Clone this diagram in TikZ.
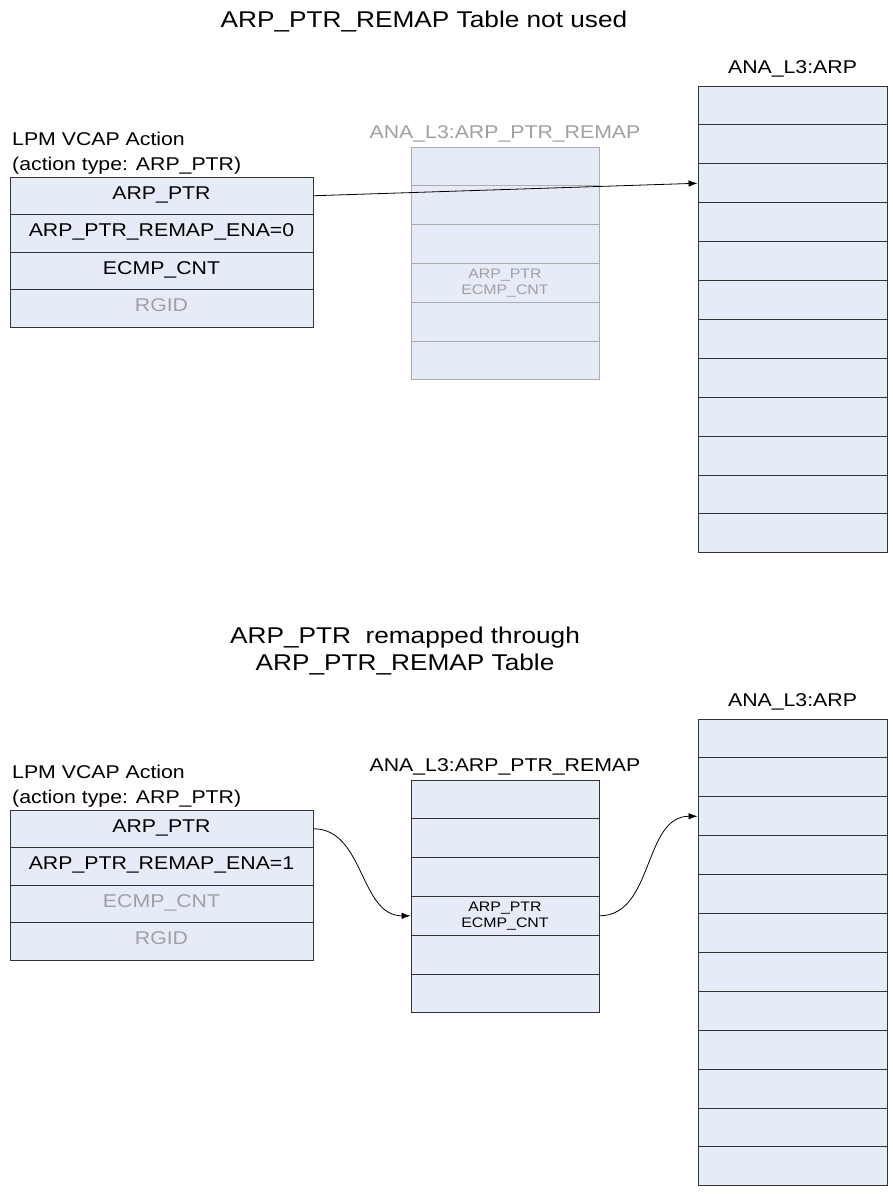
\documentclass[tikz,border=0pt]{standalone}
\usepackage{fontspec}
\setmainfont{Liberation Sans}[FakeStretch=1.15]
\usetikzlibrary{arrows.meta,positioning}
\definecolor{cellblue}{RGB}{230,236,247}
\definecolor{txtgray}{RGB}{160,160,160}
\definecolor{linegray}{RGB}{172,172,172}
\newcommand\cellfont{\fontsize{18.5}{21}\selectfont}
\newcommand\headfont{\fontsize{22.8}{27}\selectfont}
\newcommand\notefont{\fontsize{13.8}{16}\selectfont}

\begin{document}
\begin{tikzpicture}[x=1pt,y=-1pt,
    cell/.style={draw=black!80,fill=cellblue,line width=.9pt,inner sep=0pt,
      text height=.72em,text depth=0pt,font=\cellfont},
    lpmcell/.style={cell,minimum width=303pt,minimum height=37.5pt},
    remapcell/.style={cell,minimum width=188pt,minimum height=38.8pt},
    arpcell/.style={cell,minimum width=189pt,minimum height=38.9pt},
    faded/.style={draw=linegray,text=txtgray},
    cellnote/.style={font=\notefont,align=center,inner sep=0pt},
    caption/.style={font=\cellfont,anchor=base west,inner sep=0pt},
    tabletitle/.style={font=\cellfont,anchor=base,inner sep=0pt},
    heading/.style={font=\headfont,align=center,inner sep=0pt},
    ptr/.style={-{Latex[length=9pt,width=6.5pt]},line width=.8pt}]
    \useasboundingbox (0,0) rectangle (893,1194);

    % remap table not used
    \node[heading,anchor=base] (headA) at (424,27) {ARP\_PTR\_REMAP Table not used};
    \node[caption] (capA1) at (12,145) {LPM VCAP Action};
    \node[caption] (capA2) at (12,170) {(action type: ARP\_PTR)};
    \node[lpmcell] (lpmA1) at (161.5,195.75) {ARP\_PTR};
    \node[lpmcell] (lpmA2) at (161.5,233.25) {ARP\_PTR\_REMAP\_ENA=0};
    \node[lpmcell] (lpmA3) at (161.5,270.75) {ECMP\_CNT};
    \node[lpmcell,text=txtgray] (lpmA4) at (161.5,308.25) {RGID};
    \node[tabletitle,text=txtgray] (remapAt) at (505,138) {ANA\_L3:ARP\_PTR\_REMAP};
    \foreach \i in {1,...,6}
      \node[remapcell,faded] (remapA\i) at (505,{147+(\i-.5)*38.8}) {};
    \node[cellnote,text=txtgray] (remapAn) at (remapA4) {ARP\_PTR\\ECMP\_CNT};
    \node[tabletitle] (arpAt) at (792.5,73) {ANA\_L3:ARP};
    \foreach \i in {1,...,12}
      \node[arpcell] (arpA\i) at (792.5,{86+(\i-.5)*38.9}) {};
    \draw[ptr] (lpmA1.east) -- (arpA3.west);

    % remapped through the table
    \node[heading] (headB) at (405,651) {ARP\_PTR\ \ remapped through\\ARP\_PTR\_REMAP Table};
    \node[caption] (capB1) at (12,778) {LPM VCAP Action};
    \node[caption] (capB2) at (12,803) {(action type: ARP\_PTR)};
    \node[lpmcell] (lpmB1) at (161.5,828.75) {ARP\_PTR};
    \node[lpmcell] (lpmB2) at (161.5,866.25) {ARP\_PTR\_REMAP\_ENA=1};
    \node[lpmcell,text=txtgray] (lpmB3) at (161.5,903.75) {ECMP\_CNT};
    \node[lpmcell,text=txtgray] (lpmB4) at (161.5,941.25) {RGID};
    \node[tabletitle] (remapBt) at (505,771) {ANA\_L3:ARP\_PTR\_REMAP};
    \foreach \i in {1,...,6}
      \node[remapcell] (remapB\i) at (505,{780+(\i-.5)*38.8}) {};
    \node[cellnote] (remapBn) at (remapB4) {ARP\_PTR\\ECMP\_CNT};
    \node[tabletitle] (arpBt) at (792.5,706) {ANA\_L3:ARP};
    \foreach \i in {1,...,12}
      \node[arpcell] (arpB\i) at (792.5,{719+(\i-.5)*38.9}) {};
    \draw[ptr] (lpmB1.east) to[out=0,in=180] (remapB4.west);
    \draw[ptr] (remapB4.east) to[out=0,in=180] (arpB3.west);
  \end{tikzpicture}
\end{document}
